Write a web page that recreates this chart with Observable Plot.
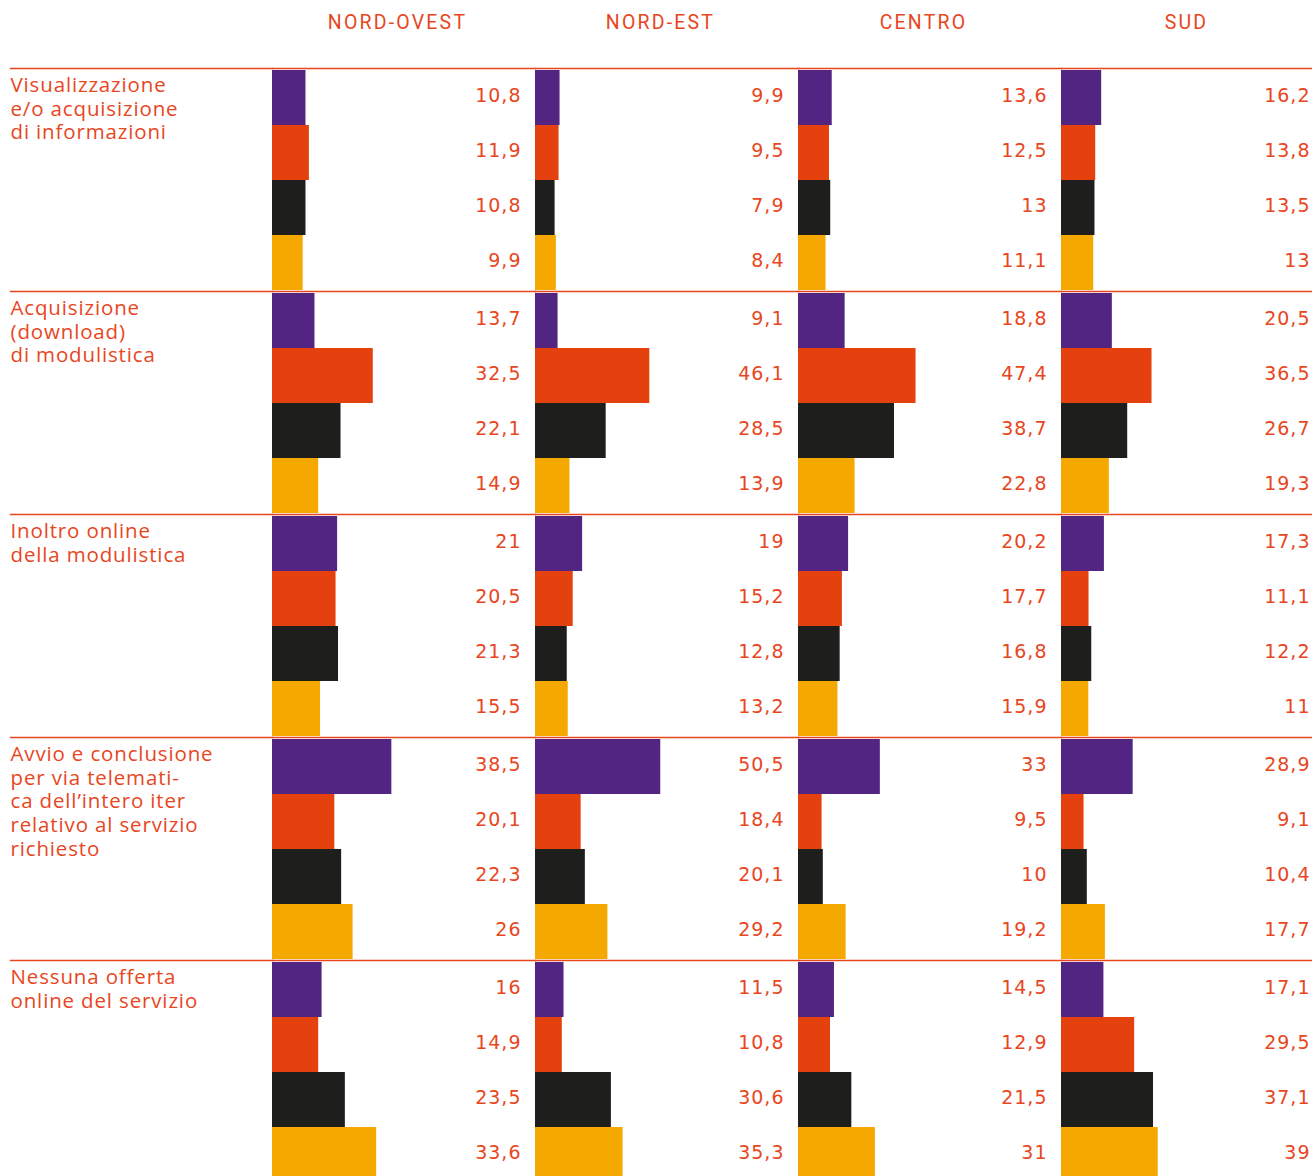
<!DOCTYPE html>
<html><head><meta charset="utf-8">
<script src="https://cdn.jsdelivr.net/npm/d3@7"></script>
<script src="https://cdn.jsdelivr.net/npm/@observablehq/plot@0.6"></script>
<style>
html,body{margin:0;padding:0;background:#fff;overflow:hidden}
#chart{position:relative;width:1312px;height:1176px;overflow:hidden}
#chart svg{position:absolute;top:0}
</style></head><body><div id="chart"></div>
<script>
const regions = ["NORD-OVEST", "NORD-EST", "CENTRO", "SUD"];
const categories = [
  "Visualizzazione\ne/o acquisizione\ndi informazioni",
  "Acquisizione\n(download)\ndi modulistica",
  "Inoltro online\ndella modulistica",
  "Avvio e conclusione\nper via telemati-\nca dell\u2019intero iter\nrelativo al servizio\nrichiesto",
  "Nessuna offerta\nonline del servizio"
];
const series = ["Serie 1", "Serie 2", "Serie 3", "Serie 4"];
const colors = ["#522583", "#e5410f", "#1e1e1c", "#f5a800"];

// values per region: one row per category, one value per series
const nordOvest = [[10.8, 11.9, 10.8, 9.9], [13.7, 32.5, 22.1, 14.9], [21, 20.5, 21.3, 15.5], [38.5, 20.1, 22.3, 26], [16, 14.9, 23.5, 33.6]];
const nordEst   = [[9.9, 9.5, 7.9, 8.4], [9.1, 46.1, 28.5, 13.9], [19, 15.2, 12.8, 13.2], [50.5, 18.4, 20.1, 29.2], [11.5, 10.8, 30.6, 35.3]];
const centro    = [[13.6, 12.5, 13, 11.1], [18.8, 47.4, 38.7, 22.8], [20.2, 17.7, 16.8, 15.9], [33, 9.5, 10, 19.2], [14.5, 12.9, 21.5, 31]];
const sud       = [[16.2, 13.8, 13.5, 13], [20.5, 36.5, 26.7, 19.3], [17.3, 11.1, 12.2, 11], [28.9, 9.1, 10.4, 17.7], [17.1, 29.5, 37.1, 39]];
const regionValues = [nordOvest, nordEst, centro, sud];
const xDomainMax = [80, 100, 100, 100];

const red = "#e8461e";
const font = "'Open Sans', sans-serif";
const numFont = "'DejaVu Sans', sans-serif";
const hdrFont = "Roboto, sans-serif";
const H = 68 + 5 * 223;
const chart = document.getElementById("chart");
const fmt = v => String(v).replace(".", ",");

// label column
const labelPlot = Plot.plot({
  width: 272, height: H,
  marginTop: 68, marginBottom: 0, marginLeft: 10, marginRight: 0,
  fy: {domain: categories, padding: 0, axis: null},
  style: {fontFamily: font, background: "transparent", overflow: "visible"},
  marks: [
    Plot.frame({anchor: "top", stroke: red, strokeWidth: 1.5}),
    Plot.text(categories, {fy: d => d, text: d => d, frameAnchor: "top-left", lineAnchor: "top", dy: 6, fontSize: 20.5, lineHeight: 1.17, fill: red})
  ]
});
d3.select(labelPlot).selectAll('g[aria-label="text"]').style("letter-spacing", "0.85px");
labelPlot.style.left = "0px";
chart.appendChild(labelPlot);

regions.forEach((region, r) => {
  const rows = [];
  categories.forEach((c, i) => series.forEach((s, j) => rows.push({category: c, series: s, value: regionValues[r][i][j]})));
  const p = Plot.plot({
    width: 263, height: H,
    marginTop: 68, marginBottom: 0, marginLeft: 0, marginRight: 0,
    x: {domain: [0, xDomainMax[r]], range: [0, 248], axis: null},
    y: {domain: series, padding: 0, axis: null},
    fy: {domain: categories, padding: 0, axis: null},
    color: {domain: series, range: colors},
    style: {fontFamily: font, background: "transparent", overflow: "visible"},
    marks: [
      Plot.barX(rows, {fy: "category", y: "series", x: "value", fill: "series"}),
      Plot.text(rows, {fy: "category", y: "series", text: d => fmt(d.value), frameAnchor: "right", dx: -14, dy: -2.5, textAnchor: "end", fill: red, fontSize: 19, fontFamily: numFont}),
      Plot.frame({anchor: "top", stroke: red, strokeWidth: 1.5}),
      Plot.text([region], {fy: () => categories[0], frameAnchor: "top", lineAnchor: "middle", dx: -6.5, dy: -46, fill: red, fontSize: 19.5, fontFamily: hdrFont})
    ]
  });
  const textGroups = d3.select(p).selectAll('g[aria-label="text"]').nodes();
  d3.select(textGroups[0]).style("letter-spacing", "1px");
  d3.select(textGroups[1]).style("letter-spacing", "2.2px");
  p.style.left = (272 + 263 * r) + "px";
  chart.appendChild(p);
});
</script></body></html>
